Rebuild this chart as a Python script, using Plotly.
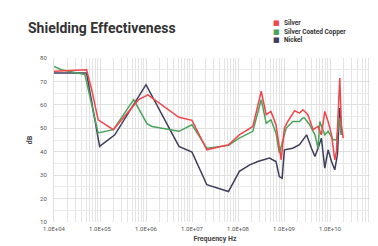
import plotly.graph_objects as go

# ---- data ----
silver_freq = [1e4, 5.1e4, 6.6e4, 9.1e4, 1.95e5, 6.9e5, 1.1e6, 5.2e6, 1.0e7, 2.1e7, 6.2e7,
               1.07e8, 2.1e8, 3.2e8, 4.1e8, 5.2e8, 6.7e8, 7.9e8, 8.7e8, 1.02e9, 1.21e9,
               1.7e9, 2.17e9, 2.58e9, 3.3e9, 4.3e9, 5.5e9, 6.5e9, 7.7e9, 9.1e9, 1.08e10,
               1.27e10, 1.38e10, 1.63e10, 1.77e10, 1.94e10]
silver_db = [74.3, 75.0, 66.5, 53.6, 49.4, 62.2, 64.3, 54.7, 53.4, 40.8, 43.0,
             47.2, 50.8, 65.8, 55.8, 57.2, 51.5, 40.8, 36.5, 50.1, 52.9,
             57.5, 56.5, 57.9, 55.8, 49.4, 50.8, 47.2, 57.2, 52.9, 47.2,
             36.5, 40.1, 71.5, 51.5, 45.8]

copper_freq = [1e4, 1.45e4, 4.7e4, 9.1e4, 1.95e5, 5.4e5, 1.05e6, 1.35e6, 5.2e6, 1.0e7, 2.1e7,
               6.2e7, 1.07e8, 2.1e8, 3.2e8, 4.1e8, 5.2e8, 6.7e8, 7.9e8, 9.4e8, 1.12e9,
               1.55e9, 2.17e9, 2.58e9, 2.8e9, 3.6e9, 4.7e9, 5.5e9, 6.0e9, 7.7e9, 9.1e9,
               1.17e10, 1.38e10, 1.63e10, 1.77e10]
copper_db = [76.4, 75.0, 72.9, 48.0, 49.4, 62.2, 52.0, 50.8, 48.7, 51.5, 41.5,
             42.7, 45.8, 48.7, 62.2, 52.2, 53.6, 48.0, 39.4, 45.1, 50.1,
             52.9, 52.9, 54.4, 54.4, 51.5, 47.2, 41.5, 52.9, 47.2, 48.7,
             45.1, 45.1, 54.4, 47.2]

nickel_freq = [1e4, 5.1e4, 9.8e4, 2.1e5, 1.0e6, 5.2e6, 1.0e7, 2.1e7, 6.2e7, 1.07e8, 1.8e8,
               2.7e8, 4.8e8, 6.7e8, 7.9e8, 9.1e8, 1.02e9, 1.55e9, 2.17e9, 3.1e9, 3.95e9,
               4.7e9, 5.5e9, 6.5e9, 7.7e9, 9.1e9, 1.08e10, 1.27e10, 1.45e10, 1.63e10, 1.77e10]
nickel_db = [73.6, 73.6, 42.3, 47.2, 68.6, 42.3, 39.8, 25.9, 23.0, 31.6, 34.4,
             35.8, 37.3, 35.8, 29.4, 28.7, 40.8, 41.5, 43.0, 47.2, 41.5,
             38.0, 41.5, 45.8, 33.0, 40.8, 35.8, 32.3, 38.7, 58.6, 47.2]

series_names = ["Silver", "Silver Coated Copper", "Nickel"]
series_colors = ["#f0464b", "#4aa35a", "#3e3d5c"]

decade_vals = [1e4, 1e5, 1e6, 1e7, 1e8, 1e9, 1e10, 1e11]
decade_labels = ["1.0E+04", "1.0E+05", "1.0E+06", "1.0E+07", "1.0E+08", "1.0E+09", "1.0E+10", "1.0E+11"]
y_ticks = [10, 20, 30, 40, 50, 60, 70, 80]

# ---- figure ----
fig = go.Figure()
for name, fx, fy, col in [
    (series_names[0], silver_freq, silver_db, series_colors[0]),
    (series_names[1], copper_freq, copper_db, series_colors[1]),
    (series_names[2], nickel_freq, nickel_db, series_colors[2]),
][::-1]:
    fig.add_trace(go.Scatter(x=fx, y=fy, mode="lines", name=name,
                             line=dict(color=col, width=1.5), showlegend=False))

# minor log gridlines (2..9 of each decade)
minor_vals = [m * v for v in decade_vals[:-1] for m in range(2, 10)]

L, R, T, B = 46, 10, 50, 32
W, H = 378, 246
pw, ph = W - L - R, H - T - B

fig.update_layout(
    width=W, height=H,
    margin=dict(l=L, r=R, t=T, b=B),
    paper_bgcolor="white", plot_bgcolor="white",
    font=dict(family="Roboto, DejaVu Sans, sans-serif", size=7, color="#444"),
    xaxis=dict(type="log", range=[4, 11], tickmode="array", tickvals=decade_vals, ticktext=decade_labels,
               tickangle=0, showgrid=True, gridcolor="#e0e0e0", gridwidth=1, zeroline=False,
               minor=dict(tickmode="array", tickvals=minor_vals, showgrid=True, gridcolor="#e4e4e4", ticks=""),
               showline=False, ticks="", ticklabelstandoff=2, tickfont=dict(size=6, color="#555"),
               title=dict(text="<b>Frequency Hz</b>", font=dict(size=7, color="#444"), standoff=5)),
    yaxis=dict(range=[10, 80], tickmode="array", tickvals=y_ticks,
               showgrid=True, gridcolor="#e0e0e0", gridwidth=1, zeroline=False,
               minor=dict(dtick=5, showgrid=True, gridcolor="#ebebeb"),
               showline=True, linecolor="#e0e0e0", ticks="", ticklabelstandoff=5,
               tickfont=dict(size=6, color="#555"),
               title=dict(text="<b>dB</b>", font=dict(size=7, color="#444"), standoff=6)),
    showlegend=False,
)

# title
fig.add_annotation(xref="paper", yref="paper", x=(18 - L) / pw, y=(H - B - 20) / ph,
                   xanchor="left", yanchor="middle", showarrow=False,
                   text="<b>Shielding Effectiveness</b>",
                   font=dict(family="Roboto, DejaVu Sans, sans-serif", size=14, color="#333"))

# legend as annotations
leg_y = [15, 24, 32]
for name, col, yy in zip(series_names, series_colors, leg_y):
    fig.add_annotation(xref="paper", yref="paper", x=(268 - L) / pw, y=(H - B - yy) / ph,
                       xanchor="center", yanchor="middle", showarrow=False,
                       text="■", font=dict(size=7, color=col))
    fig.add_annotation(xref="paper", yref="paper", x=(274 - L) / pw, y=(H - B - yy) / ph,
                       xanchor="left", yanchor="middle", showarrow=False,
                       text="<b>" + name + "</b>", font=dict(size=6.5, color="#333"))

fig.write_html("out.html")
